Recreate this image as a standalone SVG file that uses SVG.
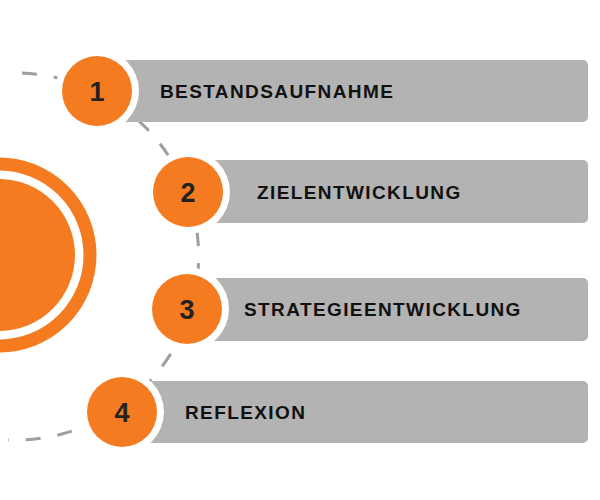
<svg xmlns="http://www.w3.org/2000/svg" width="600" height="500" viewBox="0 0 600 500">
<style>
.bar{fill:#b3b3b3}
.halo{fill:#ffffff}
.dot{fill:#f47b20}
.num{font-family:"Liberation Sans",Arial,sans-serif;font-weight:bold;font-size:27px;fill:#222222;text-anchor:middle}
.lbl{font-family:"Liberation Sans",Arial,sans-serif;font-weight:bold;font-size:19px;fill:#111111;letter-spacing:1.4px}
.arc{fill:none;stroke:#9e9e9e;stroke-width:3;stroke-dasharray:15 17}
</style>
<rect width="600" height="500" fill="#ffffff"/>
<g id="hub">
<circle cx="-1" cy="255" r="91" fill="none" stroke="#f47b20" stroke-width="13"/>
<circle cx="-1" cy="255" r="76" fill="#f47b20"/>
</g>
<g id="connectors">
<path class="arc" d="M 22 73 A 183 183 0 0 1 8 440"/>
</g>
<g id="step1">
<rect class="bar" x="110" y="60" width="478" height="62" rx="5"/>
<circle class="halo" cx="97" cy="91" r="42"/>
<circle class="dot" cx="97" cy="91" r="35"/>
<text class="num" x="97" y="101">1</text>
<text class="lbl" x="160" y="98">BESTANDSAUFNAHME</text>
</g>
<g id="step2">
<rect class="bar" x="200" y="160" width="388" height="63" rx="5"/>
<circle class="halo" cx="188" cy="192" r="42"/>
<circle class="dot" cx="188" cy="192" r="35"/>
<text class="num" x="188" y="202">2</text>
<text class="lbl" x="257" y="199">ZIELENTWICKLUNG</text>
</g>
<g id="step3">
<rect class="bar" x="200" y="278" width="388" height="63" rx="5"/>
<circle class="halo" cx="187" cy="309" r="42"/>
<circle class="dot" cx="187" cy="309" r="35"/>
<text class="num" x="187" y="319">3</text>
<text class="lbl" x="244" y="316">STRATEGIEENTWICKLUNG</text>
</g>
<g id="step4">
<rect class="bar" x="135" y="381" width="453" height="62" rx="5"/>
<circle class="halo" cx="122" cy="412" r="42"/>
<circle class="dot" cx="122" cy="412" r="35"/>
<text class="num" x="122" y="422">4</text>
<text class="lbl" x="185" y="419">REFLEXION</text>
</g>
</svg>
